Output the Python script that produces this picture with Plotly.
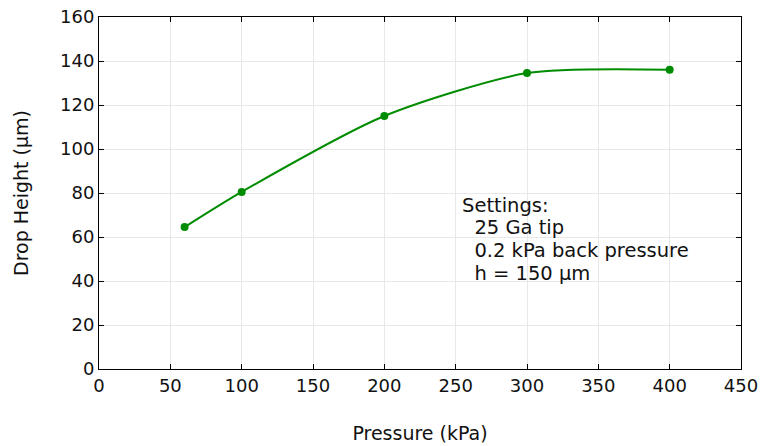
import plotly.graph_objects as go

pressure = [60, 100, 200, 300, 400]
drop_height = [64.5, 80.5, 115, 134.5, 136]
x_ticks = [0, 50, 100, 150, 200, 250, 300, 350, 400, 450]
y_ticks = [0, 20, 40, 60, 80, 100, 120, 140, 160]
note_lines = ["Settings:", "  25 Ga tip", "  0.2 kPa back pressure", "  h = 150 µm"]

green = "rgb(0,140,0)"
font_family = "DejaVu Sans"
text_color = "#111"

fig = go.Figure()
fig.add_trace(go.Scatter(
    x=pressure, y=drop_height, mode="lines+markers",
    line=dict(color=green, width=2, shape="spline", smoothing=0.7),
    marker=dict(color=green, size=8),
    showlegend=False,
))

axis_common = dict(
    showline=True, linecolor="black", linewidth=1, mirror="ticks",
    ticks="inside", ticklen=5, tickcolor="black",
    showgrid=True, gridcolor="#e8e8e8", gridwidth=1,
    zeroline=False, automargin=False, ticklabeloverflow="allow",
    tickfont=dict(family=font_family, size=18, color=text_color),
)

fig.update_xaxes(range=[0, 450], tickvals=x_ticks, **axis_common,
                 title=dict(text="Pressure (kPa)", font=dict(family=font_family, size=19, color=text_color), standoff=32))
fig.update_yaxes(range=[0, 160], tickvals=y_ticks, **axis_common,
                 title=dict(text="Drop Height (µm)", font=dict(family=font_family, size=19, color=text_color), standoff=26))

for i, line in enumerate(note_lines):
    fig.add_annotation(
        x=253, y=74.5, xref="x", yref="y", xanchor="left", yanchor="middle",
        yshift=-22.7 * i,
        text=line.replace("  ", "&nbsp;&nbsp;"),
        align="left", showarrow=False,
        font=dict(family=font_family, size=19.5, color=text_color),
    )

fig.update_layout(
    width=761, height=446,
    margin=dict(l=99, r=20, t=17, b=77),
    plot_bgcolor="white", paper_bgcolor="white",
    font=dict(family=font_family, size=18, color=text_color),
)

fig.write_html(
    "out.html",
    config={"displayModeBar": False},
    post_script="document.body.style.margin='0';document.body.style.overflow='hidden';",
)
